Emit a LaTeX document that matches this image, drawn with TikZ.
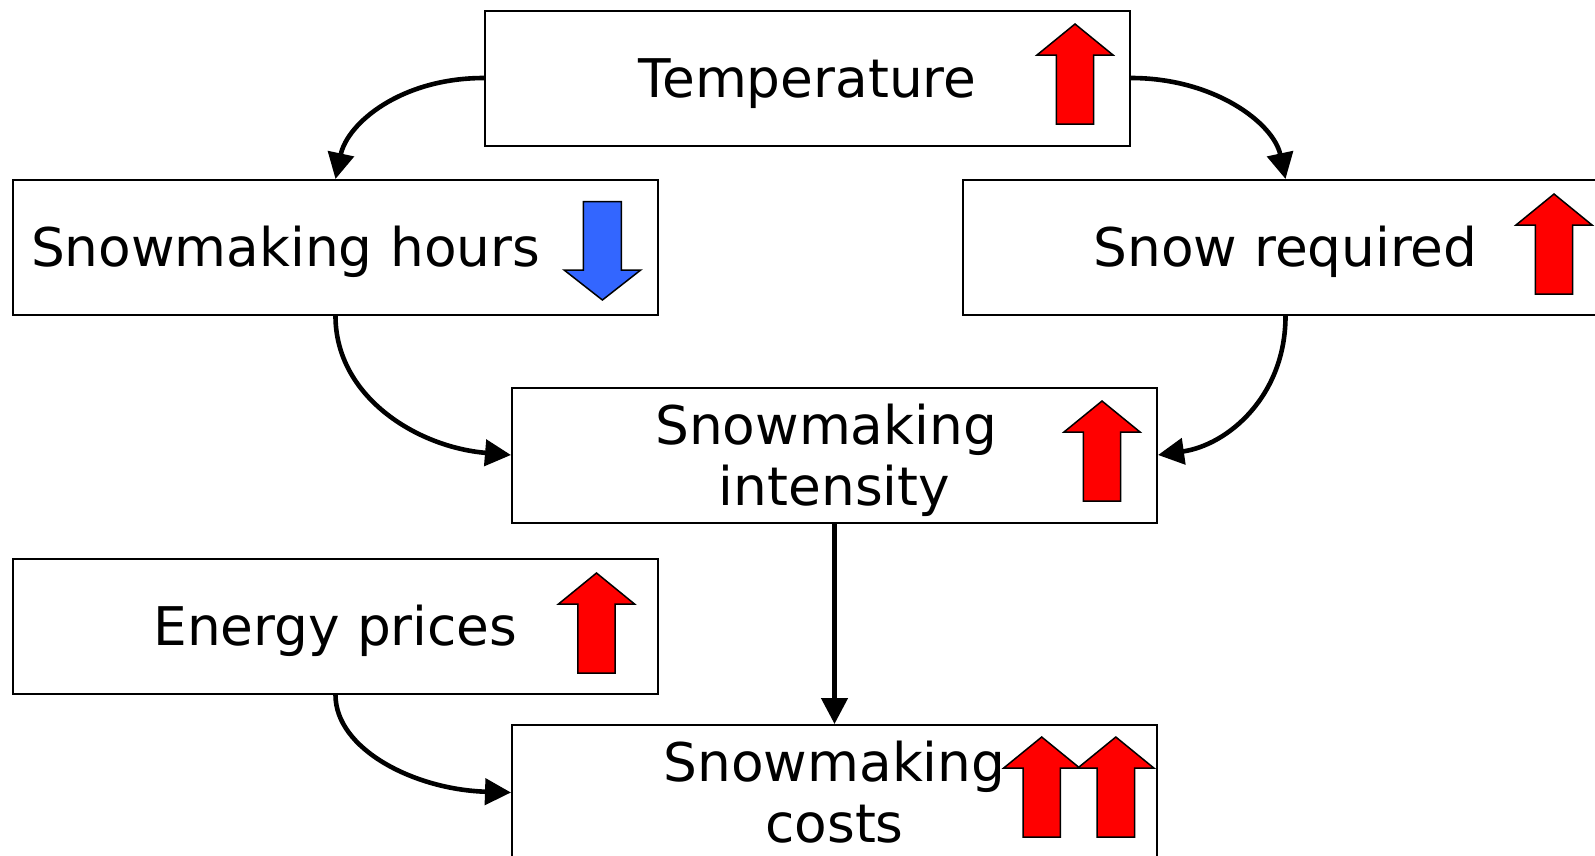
\documentclass[tikz,border=0pt]{standalone}
\usepackage{fontspec}
\setmainfont{DejaVu Sans}
\usetikzlibrary{arrows.meta}
\definecolor{upred}{RGB}{255,0,0}
\definecolor{downblue}{RGB}{51,102,255}
\tikzset{
  box/.style={draw=black, line width=2pt, fill=white, minimum width=645pt,
    minimum height=135pt, inner sep=0pt, font=\fontsize{53.3}{61}\selectfont, align=center},
  oneline/.style={text height=38.8pt, text depth=0pt},
  conn/.style={line width=4.6pt, -{Triangle[length=26pt,width=26pt]}},
  trendline/.style={line width=1.5pt, line join=miter, draw=black},
  uparrow/.pic={\draw[trendline, fill=upred] (0,-31) -- (38,0) -- (18.7,0) -- (18.7,69)
     -- (-18.7,69) -- (-18.7,0) -- (-38,0) -- cycle;},
  downarrow/.pic={\draw[trendline, fill=downblue] (0,30) -- (38.3,0) -- (19,0) -- (19,-68.3)
     -- (-19,-68.3) -- (-19,0) -- (-38.3,0) -- cycle;}
}
\begin{document}
\begin{tikzpicture}[x=1pt,y=-1pt]
\useasboundingbox[fill=white] (0,0) rectangle (1595,855);

\node[box, oneline] (T) at (807.5,78) {Temperature};
\node[box, oneline, align=left, text width=609pt, inner xsep=18pt] (H) at (335.5,247.5) {Snowmaking hours};
\node[box, oneline] (R) at (1285.5,247.5) {Snow required};
\node[box] (I) at (834.5,455) {Snowmaking\hspace*{0.318em}\\\raisebox{0pt}[\height][0pt]{intensity}};
\node[box, oneline] (E) at (335.5,626.5) {Energy prices};
\node[box] (C) at (834.5,792.5) {Snowmaking\\costs};

\draw[conn] (T.west) .. controls +(-83,0) and +(12,-56) .. (H.north);
\draw[conn] (T.east) .. controls +(83,0) and +(-12,-56) .. (R.north);
\draw[conn] (H.south) .. controls +(0,80) and +(-95,-8) .. (I.west);
\draw[conn] (R.south) .. controls +(0,80) and +(70,-10) .. (I.east);
\draw[conn] (I.south) -- (C.north);
\draw[conn] (E.south) .. controls +(0,54) and +(-97,-3) .. (C.west);

\pic at (1075,55) {uparrow};
\pic at (602.4,270) {downarrow};
\pic at (1554,225) {uparrow};
\pic at (1102,432) {uparrow};
\pic at (596.5,604) {uparrow};
\pic at (1041.7,768) {uparrow};
\pic at (1115.8,768) {uparrow};
\end{tikzpicture}
\end{document}
